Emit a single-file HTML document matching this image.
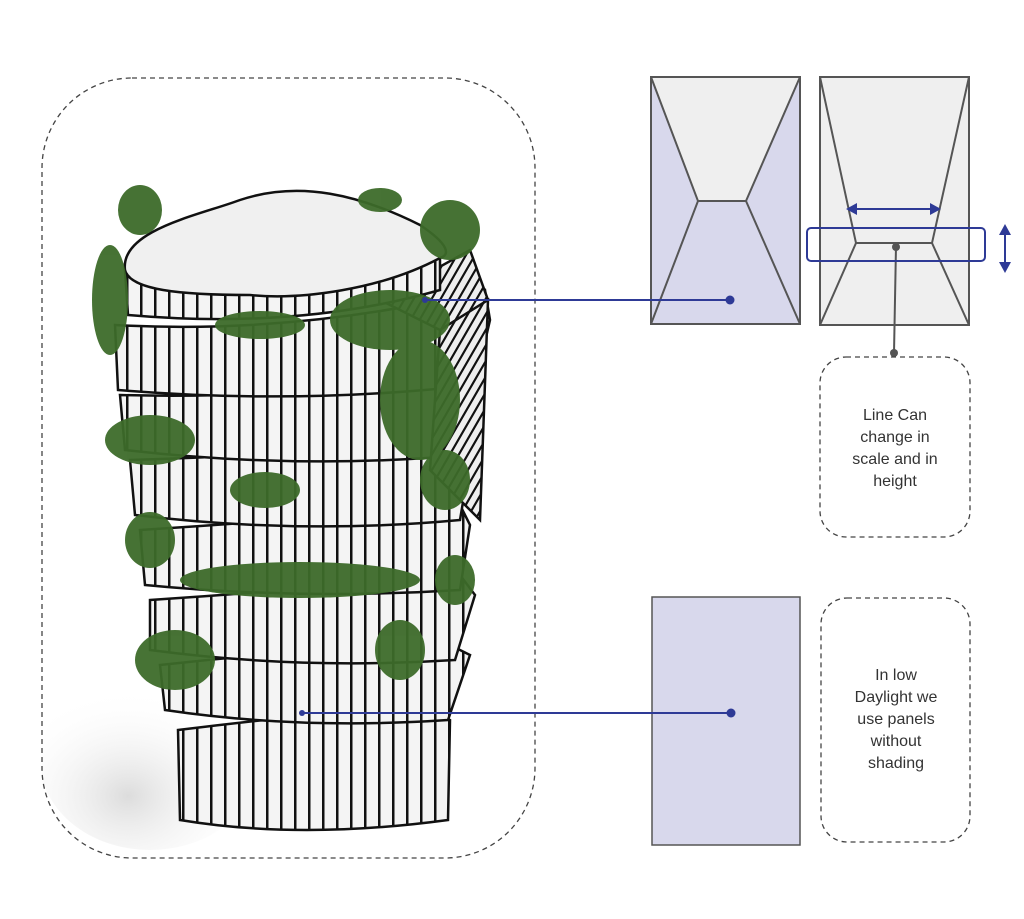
<!DOCTYPE html>
<html><head><style>
body{margin:0;width:1024px;height:919px;background:#fff;position:relative;overflow:hidden;font-family:"Liberation Sans",sans-serif}
.t{position:absolute;text-align:center;color:#333;font-size:16px;line-height:22px}
</style></head><body>
<svg width="1024" height="919" style="position:absolute;left:0;top:0">
<defs>
<pattern id="st" width="14" height="10" patternUnits="userSpaceOnUse"><rect width="14" height="10" fill="#f4f4f4"/><rect x="0" width="2.5" height="10" fill="#111"/></pattern>
<pattern id="st2" width="9" height="10" patternUnits="userSpaceOnUse" patternTransform="skewX(-30)"><rect width="9" height="10" fill="#eee"/><rect x="0" width="2.5" height="10" fill="#111"/></pattern>
<radialGradient id="sh" cx="0.4" cy="0.7" r="0.6"><stop offset="0" stop-color="#dcdcdc"/><stop offset="1" stop-color="#fff" stop-opacity="0"/></radialGradient>
<clipPath id="cb"><rect x="42" y="78" width="493" height="780" rx="90"/></clipPath>
</defs>
<ellipse cx="150" cy="760" rx="110" ry="90" fill="url(#sh)" clip-path="url(#cb)"/>
<rect x="42" y="78" width="493" height="780" rx="90" fill="none" stroke="#444" stroke-width="1.3" stroke-dasharray="5,4"/>
<g stroke="#111" stroke-width="2.5">
<path d="M178 730 Q300 715 420 705 L450 720 L448 820 Q300 840 180 820 Z" fill="url(#st)"/>
<path d="M160 665 Q300 650 440 640 L470 655 L448 720 Q300 730 165 710 Z" fill="url(#st)"/>
<path d="M150 600 Q300 590 460 575 L475 595 L455 660 Q300 670 150 650 Z" fill="url(#st)"/>
<path d="M140 530 Q300 520 460 505 L470 525 L460 590 Q300 600 145 585 Z" fill="url(#st)"/>
<path d="M130 460 Q300 455 460 440 L470 460 L460 520 Q300 535 135 515 Z" fill="url(#st)"/>
<path d="M120 395 Q300 400 470 370 L480 395 L465 455 Q300 470 125 450 Z" fill="url(#st)"/>
<path d="M115 325 Q300 335 485 290 L490 320 L475 385 Q300 405 118 390 Z" fill="url(#st)"/>
<path d="M380 300 L470 250 L488 300 L440 330 Z" fill="url(#st2)"/>
<path d="M440 330 L488 300 L480 520 L430 470 Z" fill="url(#st2)"/>
<path d="M125 270 Q300 300 440 255 L440 290 Q300 330 128 315 Z" fill="url(#st)"/>
</g>
<path d="M125 270 C120 230 200 215 240 200 C300 180 360 195 420 225 C450 245 450 255 440 258 C380 290 300 300 250 295 C180 295 130 290 125 270 Z" fill="#f0f0f0" stroke="#111" stroke-width="2.5"/>
<g fill="#3d6b2a" opacity="0.95">
<ellipse cx="140" cy="210" rx="22" ry="25"/><ellipse cx="110" cy="300" rx="18" ry="55"/>
<ellipse cx="450" cy="230" rx="30" ry="30"/><ellipse cx="380" cy="200" rx="22" ry="12"/>
<ellipse cx="390" cy="320" rx="60" ry="30"/><ellipse cx="260" cy="325" rx="45" ry="14"/>
<ellipse cx="420" cy="400" rx="40" ry="60"/><ellipse cx="150" cy="440" rx="45" ry="25"/>
<ellipse cx="265" cy="490" rx="35" ry="18"/><ellipse cx="445" cy="480" rx="25" ry="30"/>
<ellipse cx="150" cy="540" rx="25" ry="28"/><ellipse cx="300" cy="580" rx="120" ry="18"/>
<ellipse cx="455" cy="580" rx="20" ry="25"/><ellipse cx="175" cy="660" rx="40" ry="30"/>
<ellipse cx="400" cy="650" rx="25" ry="30"/>
</g>
<rect x="651" y="77" width="149" height="247" fill="#d8d8ec" stroke="#555" stroke-width="2"/>
<polygon points="651,77 800,77 746,201 698,201" fill="#efefef"/>
<g stroke="#555" stroke-width="2" fill="none">
<polyline points="651,77 698,201 651,324"/><polyline points="800,77 746,201 800,324"/><line x1="698" y1="201" x2="746" y2="201"/>
<rect x="651" y="77" width="149" height="247"/>
</g>
<rect x="820" y="77" width="149" height="248" fill="#efefef" stroke="#555" stroke-width="2"/>
<g stroke="#555" stroke-width="2" fill="none">
<polyline points="820,77 856,243 820,325"/><polyline points="969,77 932,243 969,325"/><line x1="856" y1="243" x2="932" y2="243"/>
<line x1="896" y1="246" x2="894" y2="353"/>
</g>
<circle cx="896" cy="247" r="4" fill="#555"/><circle cx="894" cy="353" r="4" fill="#555"/>
<rect x="652" y="597" width="148" height="248" fill="#d8d8ec" stroke="#555" stroke-width="1.5"/>
<g stroke="#2e3a96" stroke-width="2" fill="none">
<line x1="852" y1="209" x2="935" y2="209"/>
<rect x="807" y="228" width="178" height="33" rx="4"/>
<line x1="1005" y1="230" x2="1005" y2="267"/>
<line x1="425" y1="300" x2="730" y2="300"/><line x1="302" y1="713" x2="731" y2="713"/>
</g>
<g fill="#2e3a96">
<polygon points="846,209 857,203 857,215"/><polygon points="941,209 930,203 930,215"/>
<polygon points="1005,224 999,235 1011,235"/><polygon points="1005,273 999,262 1011,262"/>
<circle cx="425" cy="300" r="3"/><circle cx="730" cy="300" r="4.5"/>
<circle cx="302" cy="713" r="3"/><circle cx="731" cy="713" r="4.5"/>
</g>
<rect x="820" y="357" width="150" height="180" rx="26" fill="none" stroke="#444" stroke-width="1.3" stroke-dasharray="5,4"/>
<rect x="821" y="598" width="149" height="244" rx="26" fill="none" stroke="#444" stroke-width="1.3" stroke-dasharray="5,4"/>
</svg>
<div class="t" style="left:830px;top:405px;width:130px">Line Can<br>change in<br>scale and in<br>height</div>
<div class="t" style="left:831px;top:665px;width:130px">In low<br>Daylight we<br>use panels<br>without<br>shading</div>
</body></html>
